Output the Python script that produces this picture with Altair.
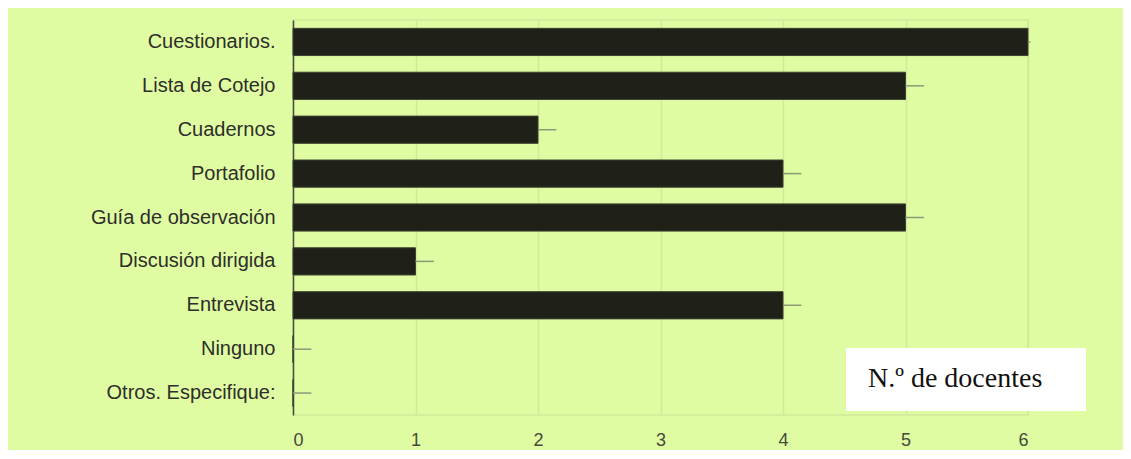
import altair as alt
import pandas as pd

categories = ["Cuestionarios.", "Lista de Cotejo", "Cuadernos", "Portafolio",
              "Guía de observación", "Discusión dirigida", "Entrevista",
              "Ninguno", "Otros. Especifique:"]
values = [6, 5, 2, 4, 5, 1, 4, 0, 0]
whisker_end = [6.02, 5.15, 2.15, 4.15, 5.15, 1.15, 4.15, 0.15, 0.15]
x_ticks = [0, 1, 2, 3, 4, 5, 6]
legend_label = "N.º de docentes"

df = pd.DataFrame({"cat": categories, "val": values, "end": whisker_end})

BG = "#dffca2"
GRID = "#d0ea9b"

y_enc = alt.Y("cat:N", sort=categories, title=None,
              scale=alt.Scale(paddingInner=0.38, paddingOuter=0.19),
              axis=alt.Axis(labelFont="Liberation Sans", labelFontSize=20, labelLimit=400,
                            labelColor="#2e2e2a", labelPadding=18, ticks=False,
                            domainColor="#4a4a40", domainWidth=1.5, grid=False))

x_scale = alt.Scale(domain=[0, 6], nice=False)
grid_vals = [i * 0.5 for i in range(13)]

bars = alt.Chart(df).mark_bar(color="#1f2119", stroke="#3d4230", strokeWidth=1).encode(
    x=alt.X("val:Q", scale=x_scale, title=None,
            axis=alt.Axis(values=grid_vals, format="d",
                          labelExpr="datum.value % 1 == 0 ? format(datum.value, 'd') : ''",
                          labelFont="Liberation Sans", labelFontSize=18, labelColor="#454a3a",
                          labelPadding=16, ticks=False, domain=False,
                          gridColor=GRID, gridWidth=1.5)),
    y=y_enc,
)

whiskers = alt.Chart(df).mark_rule(color="#8c9878", strokeWidth=1.5).encode(
    x=alt.X("val:Q", scale=x_scale),
    x2="end:Q",
    y=alt.Y("cat:N", sort=categories, bandPosition=0.5),
)

box = alt.Chart(pd.DataFrame({"t": [legend_label]})).mark_rect(color="white").encode(
    x=alt.value(553), x2=alt.value(793), y=alt.value(328), y2=alt.value(391)
)
text = alt.Chart(pd.DataFrame({"t": [legend_label]})).mark_text(
    font="Liberation Serif", fontSize=28, color="#111111", align="left", baseline="alphabetic"
).encode(text="t:N", x=alt.value(575), y=alt.value(367))

chart = alt.layer(bars, whiskers, box, text).properties(
    width=735, height=395, background=BG,
    padding={"left": 285, "top": 12, "right": 95, "bottom": 35},
    autosize=alt.AutoSizeParams(type="none"),
).configure_view(stroke=GRID, strokeWidth=1.5)

chart.save("out.html", embed_options={"renderer": "svg", "actions": False})
